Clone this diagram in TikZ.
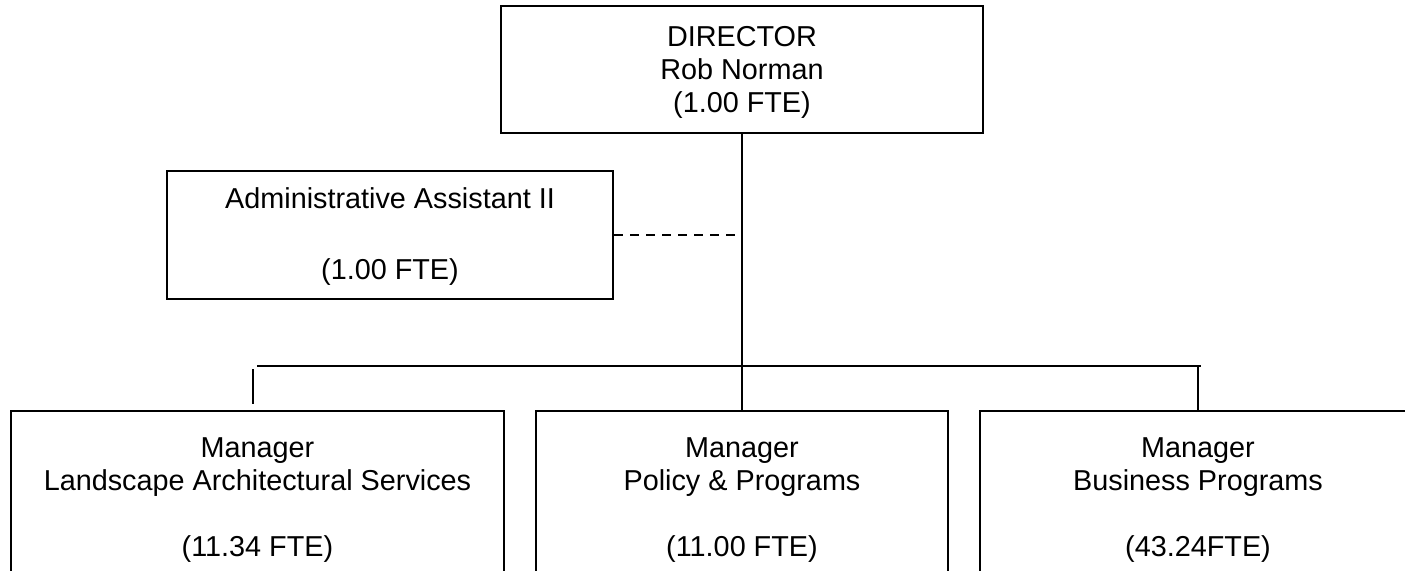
\documentclass[tikz,border=0pt]{standalone}
\usepackage{fontspec}
\setmainfont{Liberation Sans}
\usetikzlibrary{calc}
\begin{document}
\begin{tikzpicture}[x=0.5pt,y=-0.5pt,
  box/.style={draw, line width=1pt, inner sep=0pt, anchor=north west},
  lbl/.style={inner sep=0pt, anchor=north, align=center,
              font=\fontsize{14.4}{16.5}\selectfont},
  link/.style={line width=0.9pt}]
\useasboundingbox (0,0) rectangle (1405,570);

% boxes
\node[box, minimum width=241pt, minimum height=63.5pt] (dir) at (500,5) {};
\node[box, minimum width=223pt, minimum height=64pt] (asst) at (166,170) {};
\node[box, minimum width=246.5pt, minimum height=100pt] (m1) at (10,410) {};
\node[box, minimum width=206pt, minimum height=100pt] (m2) at (535,410) {};
\node[box, minimum width=218pt, minimum height=100pt] (m3) at (979,410) {};

% texts
\node[lbl] (dirtext) at ($(dir.north)+(0,18)$)
  {\strut DIRECTOR\\\strut Rob Norman\\\strut (1.00 FTE)};
\node[lbl] (assttext) at ($(asst.north)+(0,15)$)
  {\strut Administrative Assistant II\\[19pt]\strut (1.00 FTE)};
\node[lbl] (m1text) at ($(m1.north)+(0,24)$)
  {\strut Manager\\\strut Landscape Architectural Services\\[16.5pt]\strut (11.34 FTE)};
\node[lbl] (m2text) at ($(m2.north)+(0,24)$)
  {\strut Manager\\\strut Policy \& Programs\\[16.5pt]\strut (11.00 FTE)};
\node[lbl] (m3text) at ($(m3.north)+(0,24)$)
  {\strut Manager\\\strut Business Programs\\[16.5pt]\strut (43.24FTE)};

% connectors
\coordinate (busL) at (257,366);
\coordinate (busR) at (1201,366);
\coordinate (m1up) at (253,369);
\coordinate (m1dn) at (253,404);
\draw[link] (dir.south) -- (m2.north);
\draw[link] (busL) -- (busR);
\draw[link] (busR -| m3.north) -- (m3.north);
\draw[link] (m1up) -- (m1dn);
\draw[link, dash pattern=on 4.5pt off 3.5pt] (asst.east) -- (asst.east -| dir.south);
\end{tikzpicture}
\end{document}
